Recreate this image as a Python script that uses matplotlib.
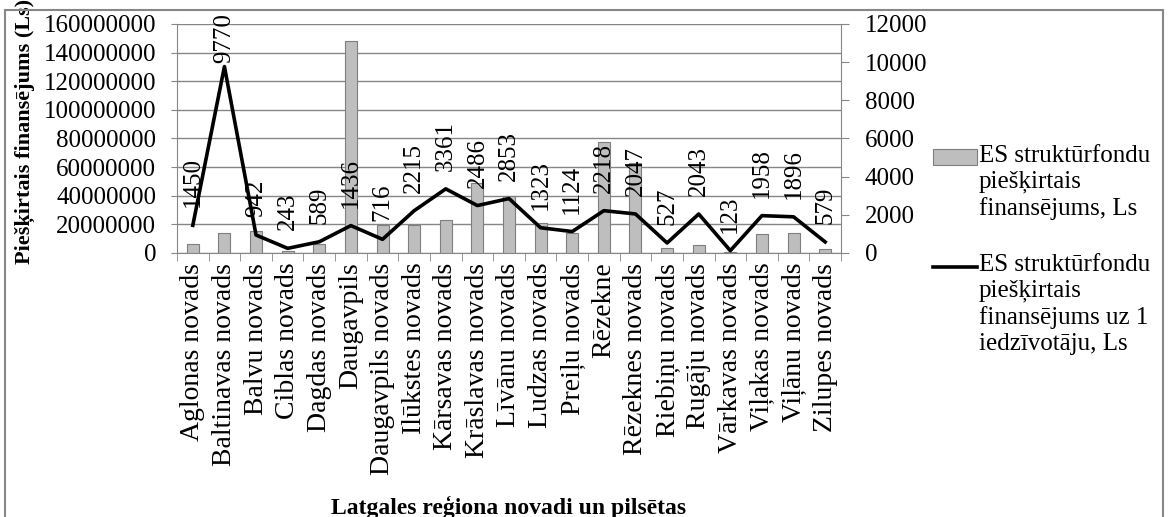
import numpy as np
import matplotlib
matplotlib.use('Agg')
import matplotlib.pyplot as plt
from matplotlib.patches import Rectangle

plt.rcParams['font.family'] = ['Liberation Serif', 'DejaVu Serif']

# data
regions = ['Aglonas novads', 'Baltinavas novads', 'Balvu novads', 'Ciblas novads',
           'Dagdas novads', 'Daugavpils', 'Daugavpils novads', 'Ilūkstes novads',
           'Kārsavas novads', 'Krāslavas novads', 'Līvānu novads', 'Ludzas novads',
           'Preiļu novads', 'Rēzekne', 'Rēzeknes novads', 'Riebiņu novads',
           'Rugāju novads', 'Vārkavas novads', 'Viļakas novads', 'Viļānu novads',
           'Zilupes novads']
funding = [6300000, 14000000, 15400000, 1400000, 6000000, 148300000, 19600000,
           19600000, 23000000, 49000000, 39800000, 20700000, 13700000, 77800000,
           63000000, 3700000, 5600000, 400000, 13000000, 13700000, 2600000]
per_capita = [1450, 9770, 942, 243, 589, 1436, 716, 2215, 3361, 2486, 2853, 1323,
              1124, 2218, 2047, 527, 2043, 123, 1958, 1896, 579]

left_ticks = [0, 20000000, 40000000, 60000000, 80000000, 100000000, 120000000,
              140000000, 160000000]
right_ticks = [0, 2000, 4000, 6000, 8000, 10000, 12000]

bar_label = 'ES struktūrfondu\npiešķirtais\nfinansējums, Ls'
line_label = 'ES struktūrfondu\npiešķirtais\nfinansējums uz 1\niedzīvotāju, Ls'

grid_c = '#868686'
fs = 18

fig = plt.figure(figsize=(11.69, 5.17), dpi=100)
ax = fig.add_axes([177 / 1169, 1 - 253 / 517, 664 / 1169, 229 / 517])
x = np.arange(len(regions))

bars = ax.bar(x, funding, width=0.38, color='#BEBEBE', edgecolor='#7F7F7F',
              linewidth=0.8, label=bar_label, zorder=2)
ax.set_ylim(0, 160000000)
ax.set_xlim(-0.5, len(regions) - 0.5)
ax.set_yticks(left_ticks)
ax.set_yticklabels([str(v) for v in left_ticks], fontsize=fs)
ax.yaxis.grid(True, color=grid_c, linewidth=1, zorder=0)
ax.set_axisbelow(True)
ax.tick_params(axis='y', length=4, color=grid_c, pad=11)

ax.set_xticks(x)
ax.set_xticklabels(regions, rotation=90, fontsize=20)
ax.set_xticks(np.arange(len(regions) + 1) - 0.5, minor=True)
ax.tick_params(axis='x', which='major', length=0, pad=7)
ax.tick_params(axis='x', which='minor', length=6, color=grid_c)

for s in ['top', 'right']:
    ax.spines[s].set_visible(False)
for s in ['left', 'bottom']:
    ax.spines[s].set_color(grid_c)

ax.set_ylabel('Piešķirtais finansējums (Ls)', fontsize=16, fontweight='bold')
ax.yaxis.set_label_coords(-0.214, 0.53)
ax.set_xlabel('Latgales reģiona novadi un pilsētas', fontsize=17, fontweight='bold')
ax.xaxis.set_label_coords(0.5, -1.06)

ax2 = ax.twinx()
line, = ax2.plot(x, per_capita, color='black', linewidth=2.6, label=line_label,
                 zorder=3)
ax2.set_ylim(0, 12000)
ax2.set_yticks(right_ticks)
ax2.set_yticklabels([str(v) for v in right_ticks], fontsize=fs)
ax2.tick_params(axis='y', length=6, color=grid_c, pad=11)
for s in ['top', 'left', 'bottom']:
    ax2.spines[s].set_visible(False)
ax2.spines['right'].set_color(grid_c)

labels = []
for xi, v in zip(x, per_capita):
    t = ax2.annotate(str(v), (xi, v), xytext=(0, 18), textcoords='offset pixels',
                     rotation=90, ha='center', va='bottom', fontsize=fs,
                     annotation_clip=False)
    labels.append(t)

leg = fig.legend(handles=[bars, line], labels=[bar_label, line_label],
                 loc='upper left', bbox_to_anchor=(933 / 1169, 1 - 145 / 517),
                 frameon=False, fontsize=fs, handlelength=1.75, handleheight=0.6,
                 handletextpad=0.08, labelspacing=1.35, borderaxespad=0,
                 borderpad=0)
for t in leg.get_texts():
    t.set_linespacing(1.22)

# outer chart frame
fig.patches.append(Rectangle((5 / 1169, -0.1), 1158 / 1169, 1.1 - 10 / 517,
                             transform=fig.transFigure, fill=False,
                             edgecolor=grid_c, linewidth=1.5))

# keep data labels inside the chart frame
fig.canvas.draw()
r = fig.canvas.get_renderer()
top_limit = fig.bbox.height - 13
for t in labels:
    bb = t.get_window_extent(r)
    if bb.y1 > top_limit:
        dx, dy = t.xyann
        t.xyann = (dx, dy - (bb.y1 - top_limit))

# move legend handles up to the first line of their label
for h, t in zip(leg.legend_handles, leg.get_texts()):
    bb = t.get_window_extent(r)
    n = len(t.get_text().split('\n'))
    shift = bb.height * (n - 1) / (2 * n) * 72 / fig.dpi
    if isinstance(h, Rectangle):
        h.set_y(h.get_y() + shift)
    else:
        h.set_ydata(np.asarray(h.get_ydata()) + shift)

fig.savefig('out.png', dpi=100)
